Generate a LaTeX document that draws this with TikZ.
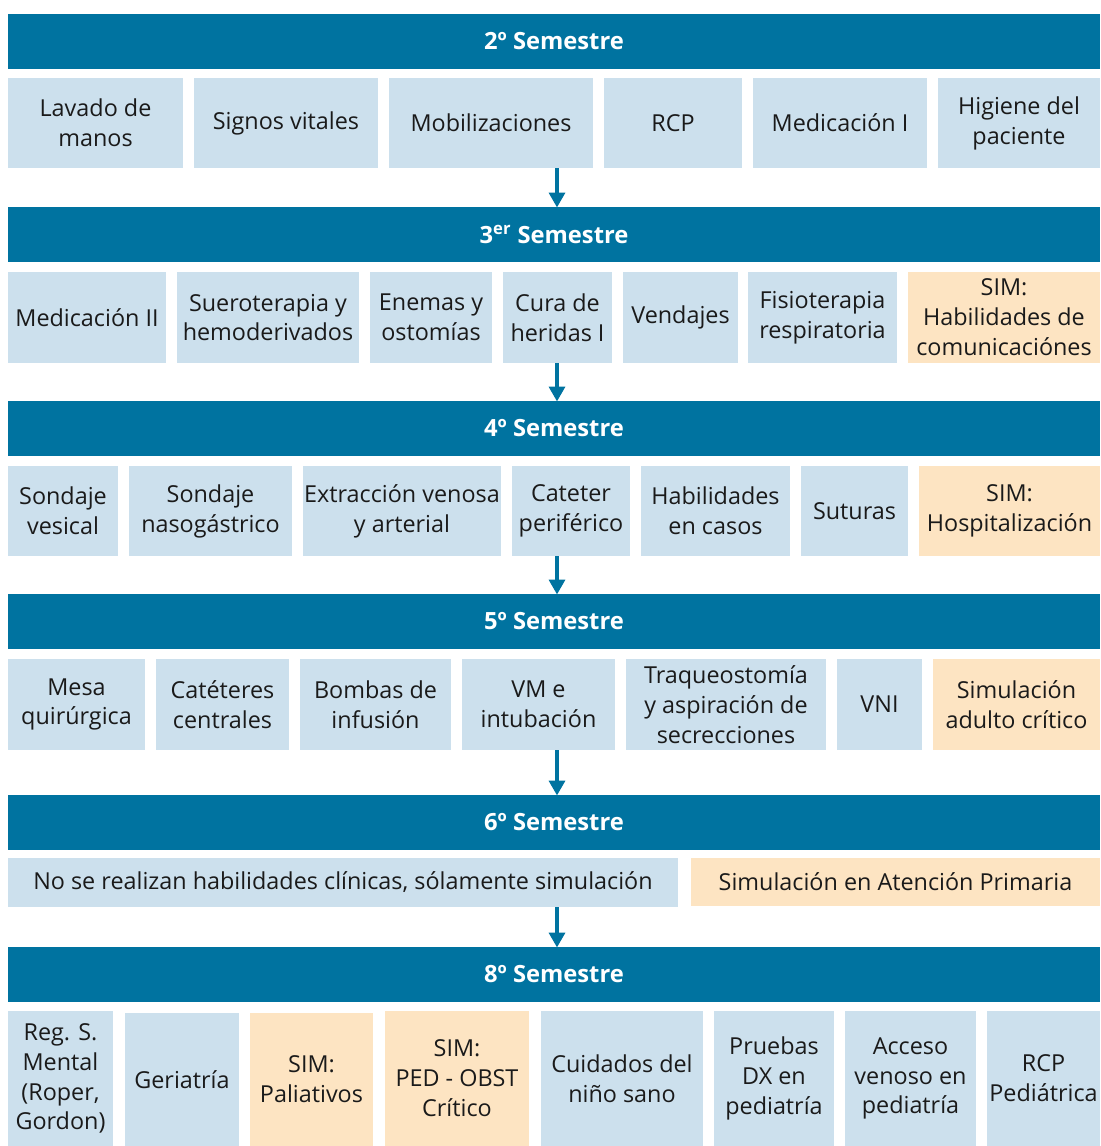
\documentclass[tikz,border=0pt]{standalone}
\usepackage{fontspec}
\setmainfont{Open Sans}
\usetikzlibrary{arrows.meta}
\definecolor{semcolor}{RGB}{0,115,160}
\definecolor{skillcolor}{RGB}{204,224,237}
\definecolor{simcolor}{RGB}{253,228,194}
\definecolor{textcolor}{RGB}{26,26,26}

\begin{document}
\begin{tikzpicture}[
				x=0.02cm, y=-0.02cm,
				semesterbox/.style={
					fill=semcolor,
					minimum width=1092*0.02cm,
					minimum height=55*0.02cm,
					inner sep=0pt,
					text=white,
					font=\fontsize{13.5}{16}\selectfont\bfseries
				},
				skillbox/.style={
					fill=skillcolor,
					inner sep=0pt,
					align=center,
					text=textcolor,
					font=\fontsize{13.3}{17}\selectfont
				},
				simbox/.style={
					skillbox,
					fill=simcolor
				},
				boxw/.style={minimum width=#1*0.02cm},
				boxh/.style={minimum height=#1*0.02cm},
				flowarrow/.style={
					-{Triangle[length=8.5pt,width=9pt]},
					line width=2.3pt,
					draw=semcolor,
					shorten >=-0.5pt
				}
				]
				
				\useasboundingbox (0,0) rectangle (1100,1146);
				
				% 2º semestre
				\node[semesterbox] (sem2) at (554,41.5) {2º Semestre};
				\node[skillbox, boxw=175, boxh=90] (lavado) at (95.5,123) {Lavado de\\manos};
				\node[skillbox, boxw=184, boxh=90] (signos) at (286,123) {Signos vitales};
				\node[skillbox, boxw=204, boxh=90] (mobil) at (491,123) {Mobilizaciones};
				\node[skillbox, boxw=138, boxh=90] (rcp) at (673,123) {RCP};
				\node[skillbox, boxw=174, boxh=90] (medI) at (840,123) {Medicación I};
				\node[skillbox, boxw=162, boxh=90] (higiene) at (1019,123) {Higiene del\\paciente};
				
				% 3er semestre
				\node[semesterbox] (sem3) at (554,234.5) {3\textsuperscript{er} Semestre};
				\node[skillbox, boxw=158, boxh=91] (medII) at (87,317.5) {Medicación II};
				\node[skillbox, boxw=182, boxh=91] (suero) at (268,317.5) {Sueroterapia y\\hemoderivados};
				\node[skillbox, boxw=122, boxh=91] (enemas) at (431,317.5) {Enemas y\\ostomías};
				\node[skillbox, boxw=109, boxh=91] (cura) at (557.5,317.5) {Cura de\\heridas I};
				\node[skillbox, boxw=115, boxh=91] (vendajes) at (680.5,317.5) {Vendajes};
				\node[skillbox, boxw=149, boxh=91] (fisio) at (822.5,317.5) {Fisioterapia\\respiratoria};
				\node[simbox, boxw=192, boxh=91] (simcom) at (1004,317.5) {SIM:\\Habilidades de\\comunicaciónes};
				
				% 4º semestre
				\node[semesterbox] (sem4) at (554,428.5) {4º Semestre};
				\node[skillbox, boxw=110, boxh=90] (vesical) at (63,511) {Sondaje\\vesical};
				\node[skillbox, boxw=163, boxh=90] (naso) at (210.5,511) {Sondaje\\nasogástrico};
				\node[skillbox, boxw=198, boxh=90] (extraccion) at (402,511) {Extracción venosa\\y arterial};
				\node[skillbox, boxw=118, boxh=90] (cateter) at (571,511) {Cateter\\periférico};
				\node[skillbox, boxw=149, boxh=90] (casos) at (715.5,511) {Habilidades\\en casos};
				\node[skillbox, boxw=107, boxh=90] (suturas) at (854.5,511) {Suturas};
				\node[simbox, boxw=181, boxh=90] (simhosp) at (1009.5,511) {SIM:\\Hospitalización};
				
				% 5º semestre
				\node[semesterbox] (sem5) at (554,621.5) {5º Semestre};
				\node[skillbox, boxw=137, boxh=91] (mesa) at (76.5,704.5) {Mesa\\quirúrgica};
				\node[skillbox, boxw=133, boxh=91] (centrales) at (222.5,704.5) {Catéteres\\centrales};
				\node[skillbox, boxw=151, boxh=91] (bombas) at (375.5,704.5) {Bombas de\\infusión};
				\node[skillbox, boxw=153, boxh=91] (vm) at (538.5,704.5) {VM e\\intubación};
				\node[skillbox, boxw=200, boxh=91] (traqueo) at (726,704.5) {Traqueostomía\\y aspiración de\\secrecciones};
				\node[skillbox, boxw=85, boxh=91] (vni) at (879.5,704.5) {VNI};
				\node[simbox, boxw=167, boxh=91] (simadulto) at (1016.5,704.5) {Simulación\\adulto crítico};
				
				% 6º semestre
				\node[semesterbox] (sem6) at (554,822.5) {6º Semestre};
				\node[skillbox, boxw=670, boxh=49] (nohab) at (343,882.5) {No se realizan habilidades clínicas, sólamente simulación};
				\node[simbox, boxw=409, boxh=48] (simap) at (895.5,882) {Simulación en Atención Primaria};
				
				% 8º semestre
				\node[semesterbox] (sem8) at (554,974.5) {8º Semestre};
				\node[skillbox, boxw=105, boxh=135] (mental) at (60.5,1078.5) {Reg. S.\\Mental\\(Roper,\\Gordon)};
				\node[skillbox, boxw=114, boxh=133] (geriatria) at (182,1079.5) {Geriatría};
				\node[simbox, boxw=123, boxh=133] (simpal) at (311.5,1079.5) {SIM:\\Paliativos};
				\node[simbox, boxw=144, boxh=135] (simped) at (457,1078.5) {SIM:\\PED - OBST\\Crítico};
				\node[skillbox, boxw=162, boxh=135] (sano) at (622,1078.5) {Cuidados del\\niño sano};
				\node[skillbox, boxw=120, boxh=135] (pruebas) at (774,1078.5) {Pruebas\\DX en\\pediatría};
				\node[skillbox, boxw=131, boxh=135] (acceso) at (910.5,1078.5) {Acceso\\venoso en\\pediatría};
				\node[skillbox, boxw=113, boxh=135] (rcpped) at (1043.5,1078.5) {RCP\\Pediátrica};
				
				\draw[flowarrow] ([xshift=0.06cm]mobil.south -| sem3.north) -- ([xshift=0.06cm]sem3.north);
				\draw[flowarrow] ([xshift=0.06cm]cura.south -| sem4.north) -- ([xshift=0.06cm]sem4.north);
				\draw[flowarrow] ([xshift=0.06cm]cateter.south -| sem5.north) -- ([xshift=0.06cm]sem5.north);
				\draw[flowarrow] ([xshift=0.06cm]vm.south -| sem6.north) -- ([xshift=0.06cm]sem6.north);
				\draw[flowarrow] ([xshift=0.06cm]nohab.south -| sem8.north) -- ([xshift=0.06cm]sem8.north);
				
			\end{tikzpicture}
\end{document}
